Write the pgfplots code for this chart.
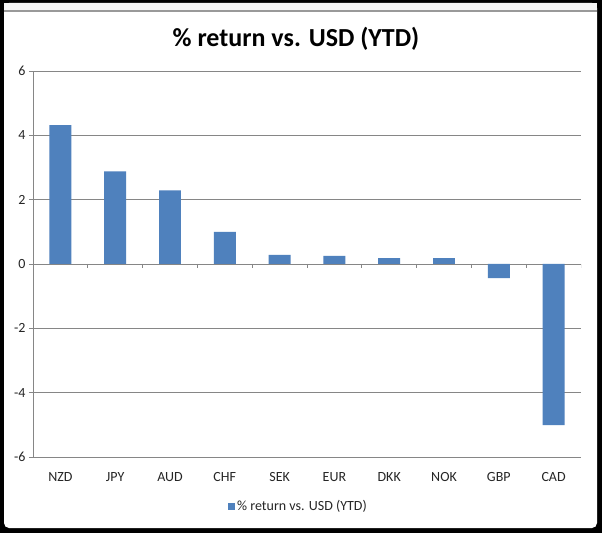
\documentclass[border=0pt]{standalone}
\usepackage{fontspec}
\setmainfont{Carlito}
\usepackage{pgfplots}
\pgfplotsset{compat=1.18}
\definecolor{barblue}{RGB}{79,129,189}
\definecolor{gridgray}{RGB}{134,134,134}
\begin{document}
\begin{tikzpicture}
\fill[black] (0pt,0pt) rectangle (602pt,533pt);
\fill[white, rounded corners=5pt] (4pt,5pt) rectangle (597pt,530pt);
\fill[black!4] (4pt,523pt) rectangle (597pt,530pt);
\draw[black!40, line width=2pt] (4pt,522pt) -- (597pt,522pt);
\begin{axis}[
  at={(33pt,76pt)}, anchor=south west,
  scale only axis, width=548pt, height=386pt,
  xmin=-0.5, xmax=9.5, ymin=-6, ymax=6,
  ytick={-6,-4,...,6},
  yticklabels={-6,-4,-2,0,2,4,6},
  xtick={0,...,9},
  xticklabels={NZD,JPY,AUD,CHF,SEK,EUR,DKK,NOK,GBP,CAD},
  axis y line*=left, axis x line*=bottom,
  x axis line style={draw=none},
  y axis line style={gridgray, line width=0.8pt, -},
  ymajorgrids, major grid style={gridgray, line width=0.8pt},
  y tick style={gridgray, line width=0.8pt},
  x tick style={draw=none},
  tick align=outside, major tick length=4pt,
  tick label style={font=\fontsize{14}{16}\selectfont, text=black!85},
  xticklabel style={yshift=-8pt},
  legend style={draw=none, at={(0.4845,0)}, anchor=center, yshift=-49pt,
    font=\fontsize{14}{16}\selectfont, text=black!85},
  legend image code/.code={\fill[barblue] (0pt,-3.5pt) rectangle (7pt,3.5pt);},
]
\addplot[ybar, bar width=0.4, fill=barblue, draw=none] coordinates {
  (0,4.32) (1,2.88) (2,2.29) (3,1.00) (4,0.28)
  (5,0.25) (6,0.18) (7,0.18) (8,-0.44) (9,-5.01)};
\addlegendentry{\% return vs. USD (YTD)}
\pgfplotsinvokeforeach{-0.5,0.5,...,9.5}{
  \draw[gridgray, line width=0.8pt] (axis cs:#1,0) -- ++(0pt,-4pt);
}
\end{axis}
\node[font=\bfseries\fontsize{26}{31}\selectfont, anchor=base] at (296pt,486pt) {\% return vs. USD (YTD)};
\end{tikzpicture}
\end{document}
